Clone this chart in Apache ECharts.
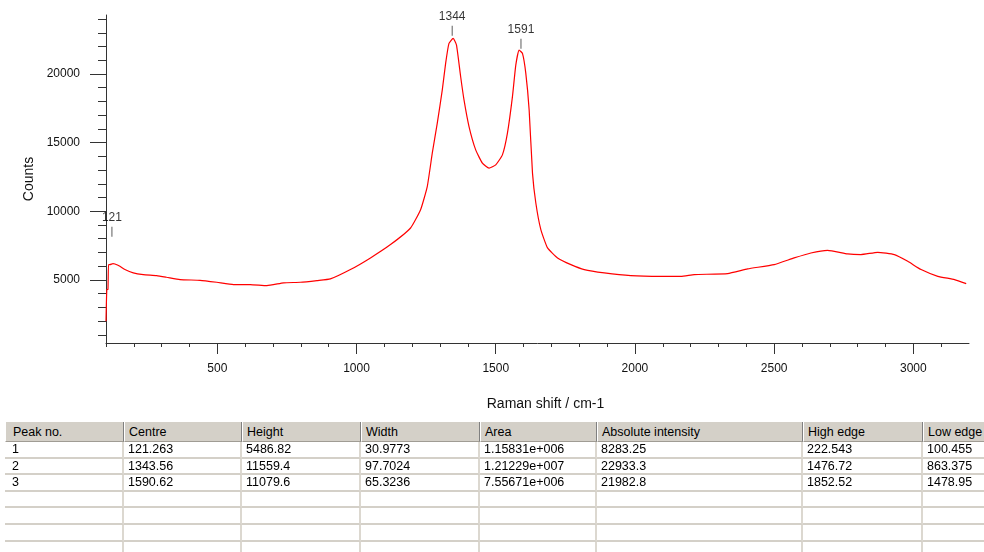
<!DOCTYPE html>
<html>
<head>
<meta charset="utf-8">
<script src="https://cdn.jsdelivr.net/npm/echarts/dist/echarts.min.js"></script>
<style>
  html, body { margin: 0; padding: 0; background: #fff; overflow: hidden; }
  #chart { position: absolute; left: 0; top: 0; width: 984px; height: 552px; }
  #peaks {
    position: absolute; left: 5px; top: 422px;
    border-collapse: separate; border-spacing: 0; table-layout: fixed;
    font-family: "Liberation Sans", Arial, sans-serif; font-size: 12.5px; color: #000;
  }
  #peaks th {
    height: 20px; box-sizing: border-box; padding: 0 0 0 4px;
    background: #d4d0c8; font-weight: normal; text-align: left; white-space: nowrap;
    border-left: 1px solid #fff; border-right: 1px solid #808080; border-bottom: 1px solid #a09c94;
  }
  #peaks td {
    height: 16.6px; box-sizing: border-box; padding: 0 0 0 4px; line-height: 14px;
    border-bottom: 2px solid #d4d0c8; border-right: 2px solid #dcd8d0; white-space: nowrap; overflow: hidden;
  }
  #peaks th:first-child, #peaks td:first-child { padding-left: 7px; }
</style>
</head>
<body>
<div id="chart"></div>
<table id="peaks"><colgroup></colgroup><thead></thead><tbody></tbody></table>
<script>
// spectrum (Raman shift / counts)
const spectrumShift = [100, 103, 107, 109, 114, 125, 132, 150, 168, 198, 234, 282, 318, 366, 438, 498, 558, 618, 678, 738, 798, 858, 906, 978, 1050, 1122, 1194, 1230, 1254, 1272, 1290, 1308, 1320, 1332, 1347, 1359, 1374, 1386, 1404, 1428, 1452, 1476, 1500, 1524, 1542, 1560, 1572, 1584, 1596, 1608, 1620, 1632, 1644, 1662, 1686, 1722, 1770, 1818, 1890, 1985, 2093, 2165, 2213, 2333, 2405, 2500, 2572, 2632, 2692, 2764, 2812, 2872, 2932, 2980, 3028, 3088, 3148, 3190];
const spectrumCounts = [1990, 4300, 4310, 6110, 6110, 6180, 6160, 5990, 5750, 5510, 5385, 5310, 5190, 5020, 4970, 4825, 4660, 4660, 4585, 4780, 4825, 4950, 5070, 5750, 6600, 7570, 8780, 10110, 11800, 14230, 16420, 18840, 20780, 22230, 22600, 22110, 19800, 18110, 16170, 14470, 13510, 13140, 13380, 14110, 15690, 18350, 20650, 21750, 21500, 20050, 17380, 12780, 10600, 8660, 7330, 6600, 6110, 5750, 5510, 5310, 5260, 5260, 5385, 5460, 5800, 6110, 6600, 6960, 7150, 6890, 6840, 7010, 6840, 6350, 5750, 5260, 5020, 4730];

// peak table
const tableHeaders = ['Peak no.', 'Centre', 'Height', 'Width', 'Area', 'Absolute intensity', 'High edge', 'Low edge'];
const peakNo = [1, 2, 3];
const peakCentre = [121.263, 1343.56, 1590.62];
const peakHeight = [5486.82, 11559.4, 11079.6];
const peakWidth = [30.9773, 97.7024, 65.3236];
const peakArea = ['1.15831e+006', '1.21229e+007', '7.55671e+006'];
const peakAbsIntensity = [8283.25, 22933.3, 21982.8];
const peakHighEdge = [222.543, 1476.72, 1852.52];
const peakLowEdge = [100.455, 863.375, 1478.95];

// axis ticks
const xMajorTicks = [500, 1000, 1500, 2000, 2500, 3000];
const xMinorTicks = [100, 200, 300, 400, 600, 700, 800, 900, 1100, 1200, 1300, 1400, 1600, 1700, 1800, 1900, 2100, 2200, 2300, 2400, 2600, 2700, 2800, 2900, 3100];
const yMajorTicks = [5000, 10000, 15000, 20000];
const yMinorTicks = [1000, 2000, 3000, 4000, 6000, 7000, 8000, 9000, 11000, 12000, 13000, 14000, 16000, 17000, 18000, 19000, 21000, 22000, 23000, 24000];

const xMin = 100, xMax = 3200, yMin = 400, yMax = 24300;
const axisColor = '#333';
const textColor = '#111';
const font = '"Liberation Sans", Arial, sans-serif';

const chart = echarts.init(document.getElementById('chart'), null, { renderer: 'canvas' });

const spectrum = spectrumShift.map((x, i) => [x, spectrumCounts[i]]);
const peakMarks = peakCentre.map((c, i) => [c, peakAbsIntensity[i]]);
const plain = v => String(v);

const option = {
  animation: false,
  backgroundColor: '#fff',
  grid: { left: 106, right: 15, top: 15, bottom: 209, containLabel: false },
  xAxis: [
    {
      type: 'value', min: xMin, max: xMax, position: 'bottom',
      name: 'Raman shift / cm-1', nameLocation: 'middle', nameGap: 54,
      nameTextStyle: { fontFamily: font, fontSize: 14, color: textColor, padding: [0, 0, 0, 16] },
      axisLine: { show: true, lineStyle: { color: axisColor, width: 1 } },
      axisTick: { show: true, length: 11, customValues: xMajorTicks, lineStyle: { color: axisColor } },
      axisLabel: { customValues: xMajorTicks, margin: 20, fontFamily: font, fontSize: 12, color: textColor, formatter: plain },
      splitLine: { show: false }
    },
    {
      type: 'value', min: xMin, max: xMax, position: 'bottom',
      axisLine: { show: false },
      axisTick: { show: true, length: 4, customValues: xMinorTicks, lineStyle: { color: axisColor } },
      axisLabel: { show: false },
      splitLine: { show: false }
    }
  ],
  yAxis: [
    {
      type: 'value', min: yMin, max: yMax, position: 'left',
      name: 'Counts', nameLocation: 'middle', nameGap: 67,
      nameTextStyle: { fontFamily: font, fontSize: 14, color: textColor },
      axisLine: { show: true, lineStyle: { color: axisColor, width: 1 } },
      axisTick: { show: true, length: 16, customValues: yMajorTicks, lineStyle: { color: axisColor } },
      axisLabel: { customValues: yMajorTicks, margin: 26, fontFamily: font, fontSize: 12, color: textColor, formatter: plain },
      splitLine: { show: false }
    },
    {
      type: 'value', min: yMin, max: yMax, position: 'left',
      axisLine: { show: false },
      axisTick: { show: true, length: 8, customValues: yMinorTicks, lineStyle: { color: axisColor } },
      axisLabel: { show: false },
      splitLine: { show: false }
    }
  ],
  series: [
    {
      type: 'line', xAxisIndex: 0, yAxisIndex: 0,
      data: spectrum, showSymbol: false, smooth: 0.15,
      lineStyle: { color: '#ff0000', width: 1.2 }, silent: true
    },
    {
      type: 'scatter', xAxisIndex: 0, yAxisIndex: 0,
      data: peakMarks, symbol: 'rect', symbolSize: [1, 10], symbolOffset: [0, -3],
      itemStyle: { color: '#333' }, silent: true, z: 5,
      label: {
        show: true, position: 'top', distance: 3,
        fontFamily: font, fontSize: 12, color: '#000',
        formatter: p => String(Math.round(p.value[0]))
      }
    }
  ]
};
chart.setOption(option);

// table below the chart
const colWidths = [119, 118, 119, 119, 117, 206, 120, 80];
const colgroup = document.querySelector('#peaks colgroup');
colWidths.forEach(w => { const c = document.createElement('col'); c.style.width = w + 'px'; colgroup.appendChild(c); });
document.querySelector('#peaks').style.width = colWidths.reduce((a, b) => a + b, 0) + 'px';
document.querySelector('#peaks thead').innerHTML = '<tr>' + tableHeaders.map(h => '<th>' + h + '</th>').join('') + '</tr>';
const rows = peakNo.map((n, i) => [n, peakCentre[i], peakHeight[i], peakWidth[i], peakArea[i], peakAbsIntensity[i], peakHighEdge[i], peakLowEdge[i]]);
for (let k = 0; k < 4; k++) rows.push(['', '', '', '', '', '', '', '']);
document.querySelector('#peaks tbody').innerHTML = rows.map(r => '<tr>' + r.map(v => '<td>' + (v === '' ? '&nbsp;' : v) + '</td>').join('') + '</tr>').join('');
</script>
</body>
</html>
